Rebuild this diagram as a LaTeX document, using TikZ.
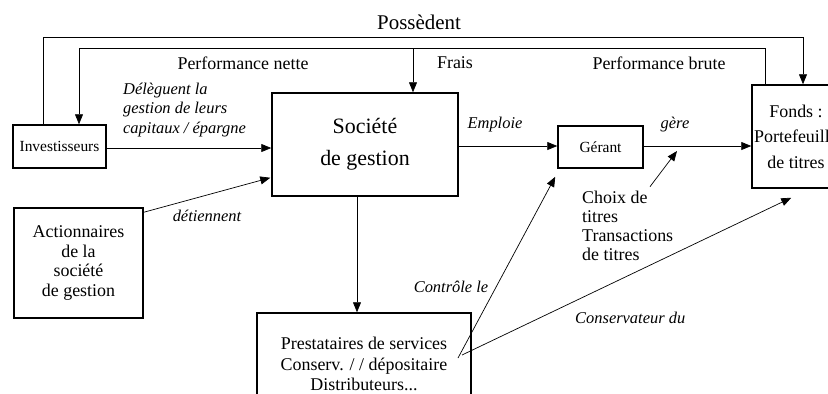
\documentclass[tikz,border=0pt]{standalone}
\usepackage{fontspec}
\setmainfont{Liberation Serif}
\usetikzlibrary{arrows.meta,calc}
\begin{document}
\begin{tikzpicture}[x=1bp,y=-1bp,
  box/.style={draw,line width=1.5bp,inner sep=0pt,align=center,font=\fontsize{18}{20}\selectfont},
  conn/.style={line width=0.7bp},
  arr/.style={conn,-{Triangle[length=10bp,width=8bp]}},
  lab/.style={inner sep=0pt,font=\fontsize{18}{20}\selectfont},
  ilab/.style={inner sep=0pt,font=\fontsize{16.5}{20}\selectfont\itshape}]
\clip (0,0) rectangle (828,393);
% boxes
\node[box,minimum width=93bp,minimum height=43bp,font=\fontsize{15.5}{18}\selectfont] (inv) at (59.5,146.5) {Investisseurs};
\node[box,minimum width=186bp,minimum height=103bp,font=\fontsize{22}{32}\selectfont] (soc) at (365,144.5) {Société\\de gestion};
\node[box,minimum width=129bp,minimum height=110bp] (act) at (78.5,263) {Actionnaires\\de la\\société\\de gestion};
\node[box,minimum width=85bp,minimum height=42bp,font=\fontsize{15.5}{18}\selectfont] (ger) at (600.5,147) {Gérant};
\node[box,minimum width=88bp,minimum height=103bp,font=\fontsize{18}{25.5}\selectfont] (fonds) at (796,136.5) {Fonds :\\Portefeuille\\de titres};
\node[box,minimum width=214bp,minimum height=102bp,font=\fontsize{18}{20.5}\selectfont] (prest) at (364,364) {Prestataires de services\\Conserv. / / dépositaire\\Distributeurs...};
\node[lab,anchor=west,align=left,font=\fontsize{18}{19.3}\selectfont] (choix) at (582,226) {Choix de\\titres\\Transactions\\de titres};
% labels
\node[lab,font=\fontsize{21}{24}\selectfont] (pos) at (419,22) {Possèdent};
\node[lab] (pnet) at (243,63) {Performance nette};
\node[lab] (frais) at (455,63) {Frais};
\node[lab] (pbrut) at (659,63) {Performance brute};
\node[ilab,anchor=west,align=left] (deleg) at (123,110) {Délèguent la\\gestion de leurs\\capitaux / épargne};
\node[ilab] (empl) at (495,125) {Emploie};
\node[ilab] (gere) at (675,125) {gère};
\node[ilab] (det) at (207,216) {détiennent};
\node[ilab] (ctrl) at (451,287) {Contrôle le};
\node[ilab,anchor=west] (cons) at (575,318) {Conservateur du};
% coordinates
\coordinate (topA) at (43,37);
\coordinate (topB) at (79,48);
\coordinate (cP) at (458,358);
\coordinate (cC) at (462,355);
% connectors
\draw[arr] (inv.east |- 0,148) -- (soc.west |- 0,148);
\draw[arr] ($(act.north east)+(0,5)$) -- ($(soc.south west)+(-1,-19)$);
\draw[arr] (soc.east |- 0,146) -- (ger.west |- 0,146);
\draw[arr] (ger.east |- 0,146) -- (fonds.west |- 0,146);
\draw[arr] (357,0 |- soc.south) -- (357,0 |- prest.north);
\draw[arr] (765,0 |- fonds.north) |- (topB) -- (topB |- inv.north);
\draw[arr] (413,48) -- (413,0 |- soc.north);
\draw[arr] (topA |- inv.north) -- (topA) -| (803,0 |- fonds.north);
\draw[arr] (cP) -- ($(ger.south west)+(-2,8)$);
\draw[arr] (cC) -- ($(fonds.south west)+(40,9)$);
\draw[arr] ($(choix.north west)+(68,-4)$) -- (677,151);
\end{tikzpicture}
\end{document}
